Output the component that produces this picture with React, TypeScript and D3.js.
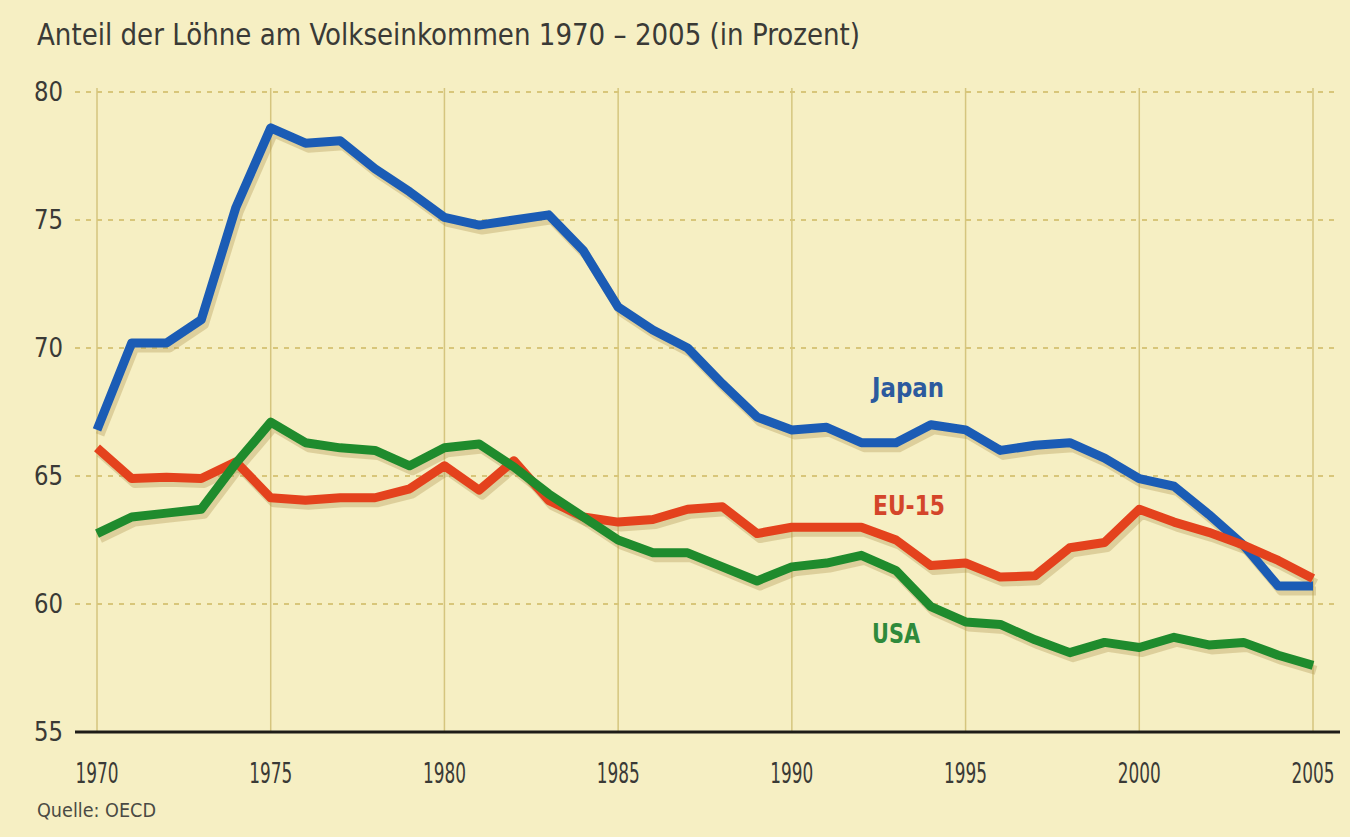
import React from "react";
import * as d3 from "d3";

const years = d3.range(1970, 2006);
const japan = [66.8, 70.2, 70.2, 71.1, 75.5, 78.6, 78.0, 78.1, 77.0, 76.1, 75.1, 74.8, 75.0, 75.2, 73.8, 71.6, 70.7, 70.0, 68.6, 67.3, 66.8, 66.9, 66.3, 66.3, 67.0, 66.8, 66.0, 66.2, 66.3, 65.7, 64.9, 64.6, 63.5, 62.3, 60.7, 60.7];
const eu15 = [66.1, 64.9, 64.95, 64.9, 65.55, 64.15, 64.05, 64.15, 64.15, 64.5, 65.4, 64.45, 65.6, 64.05, 63.4, 63.2, 63.3, 63.7, 63.8, 62.75, 63.0, 63.0, 63.0, 62.5, 61.5, 61.6, 61.05, 61.1, 62.2, 62.4, 63.7, 63.2, 62.8, 62.3, 61.7, 61.0];
const usa = [62.75, 63.4, 63.55, 63.7, 65.5, 67.1, 66.3, 66.1, 66.0, 65.4, 66.1, 66.25, 65.35, 64.3, 63.4, 62.5, 62.0, 62.0, 61.45, 60.9, 61.45, 61.6, 61.9, 61.3, 59.9, 59.3, 59.2, 58.6, 58.1, 58.5, 58.3, 58.7, 58.4, 58.5, 58.0, 57.6];
const xTicks = [1970, 1975, 1980, 1985, 1990, 1995, 2000, 2005];
const yTicks = [55, 60, 65, 70, 75, 80];
const seriesNames = ["Japan", "EU-15", "USA"];

const W = 1350, H = 837;
const COND = "'Liberation Sans Narrow', 'DejaVu Sans Condensed', 'Open Sans', sans-serif";

export default function App() {
  const x = d3.scaleLinear().domain([1970, 2005]).range([97, 1313]);
  const y = d3.scaleLinear().domain([55, 80]).range([732, 92]);
  const line = d3.line<number>().x((_, i) => x(years[i])).y((d) => y(d));

  const series = [
    { name: seriesNames[0], data: japan, color: "#1b5cb5", label: "#2c5a9e", lx: 872, ly: 397, lw: 72 },
    { name: seriesNames[1], data: eu15, color: "#e4421d", label: "#d4452a", lx: 873, ly: 515, lw: 72 },
    { name: seriesNames[2], data: usa, color: "#1f8b2d", label: "#2f8a3b", lx: 872, ly: 643, lw: 48 },
  ];

  return (
    <svg width={W} height={H} style={{ position: "absolute", left: 0, top: 0 }}>
      <rect x={0} y={0} width={W} height={H} fill="#f6efc3" />
      <text x={37} y={45} fontFamily={COND} fontSize={30} fill="#3a3a36" textLength={823} lengthAdjust="spacingAndGlyphs">
        Anteil der Löhne am Volkseinkommen 1970 – 2005 (in Prozent)
      </text>
      {xTicks.map((t) => (
        <line key={"v" + t} x1={x(t)} x2={x(t)} y1={88} y2={y(55)} stroke="#d5c57e" strokeWidth={1.5} />
      ))}
      {yTicks.filter((t) => t > 55).map((t) => (
        <line key={"h" + t} x1={75} x2={1340} y1={y(t)} y2={y(t)} stroke="#d8c67a" strokeWidth={2} strokeDasharray="5,6" />
      ))}
      <line x1={75} x2={1340} y1={y(55)} y2={y(55)} stroke="#1e1c18" strokeWidth={3} />
      {yTicks.map((t) => (
        <text key={"yl" + t} x={63} y={y(t) + 9} textAnchor="end" fontFamily={COND} fontSize={26} fill="#3a3a36" textLength={29} lengthAdjust="spacingAndGlyphs">
          {t}
        </text>
      ))}
      {xTicks.map((t) => (
        <text key={"xl" + t} x={x(t)} y={783} textAnchor="middle" fontFamily={COND} fontSize={28} fill="#3a3a36" textLength={43} lengthAdjust="spacingAndGlyphs">
          {t}
        </text>
      ))}
      <text x={37} y={817} fontFamily={COND} fontSize={19} fill="#4a4a44" textLength={119} lengthAdjust="spacingAndGlyphs">
        Quelle: OECD
      </text>
      <g transform="translate(3,5)">
        {series.map((s) => (
          <path key={"sh" + s.name} d={line(s.data) || ""} fill="none" stroke="rgba(175,150,80,0.35)" strokeWidth={9} strokeLinejoin="round" />
        ))}
      </g>
      {series.map((s) => (
        <path key={"ln" + s.name} d={line(s.data) || ""} fill="none" stroke={s.color} strokeWidth={9} strokeLinejoin="round" />
      ))}
      {series.map((s) => (
        <text key={"lb" + s.name} x={s.lx} y={s.ly} fontFamily={COND} fontWeight="bold" fontSize={26} fill={s.label} textLength={s.lw} lengthAdjust="spacingAndGlyphs">
          {s.name}
        </text>
      ))}
    </svg>
  );
}
